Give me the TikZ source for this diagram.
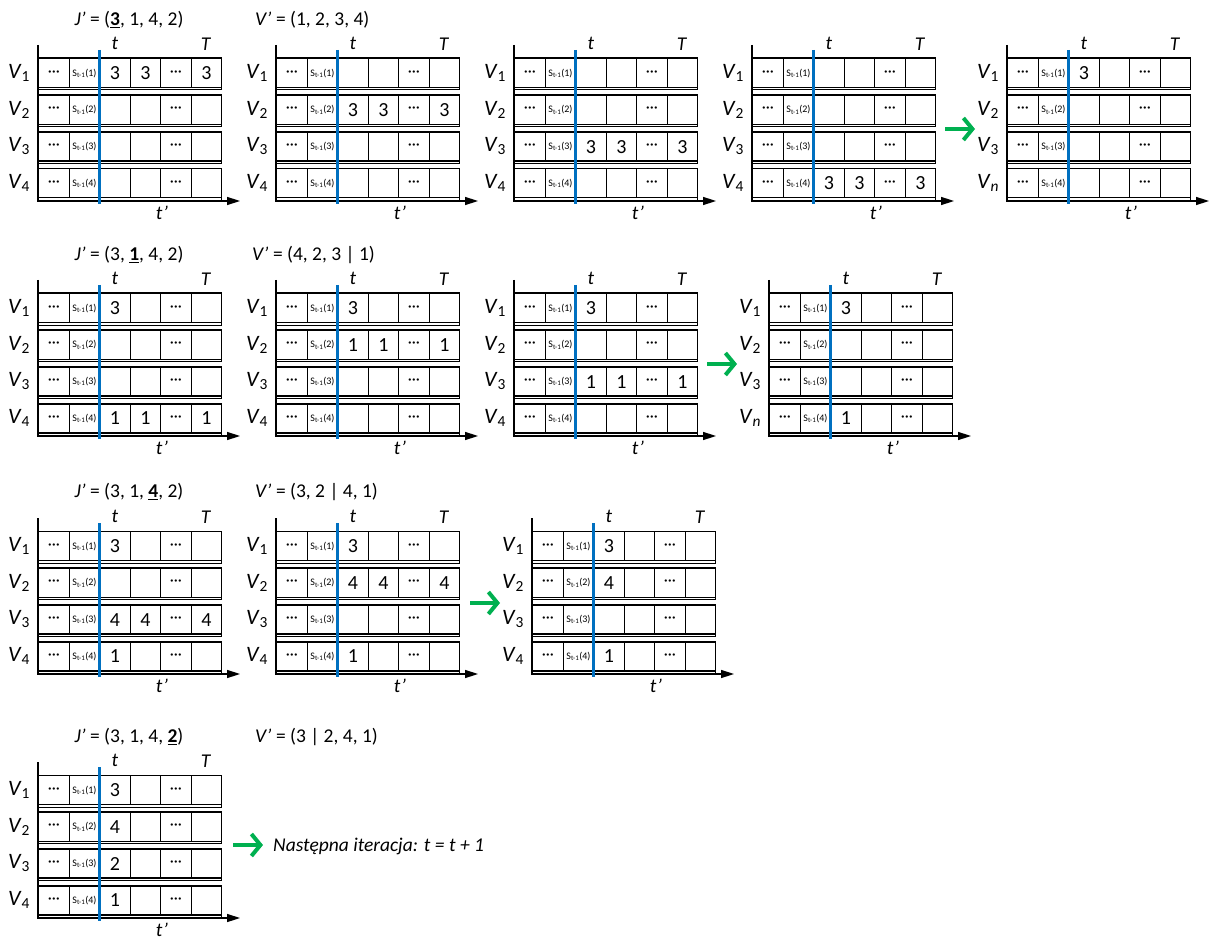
\documentclass[tikz,border=0pt]{standalone}
\usepackage{fontspec}
\setmainfont{Carlito}
\usetikzlibrary{arrows.meta}

\newcommand\slot[1]{{\fontsize{10}{11}\selectfont S\textsubscript{t-1}(#1)}}
\newcommand\gap{\textperiodcentered\textperiodcentered\textperiodcentered}

% one slot table: name, left x, top y, label of last row, filled cells r/c/v
\newcommand\slotgrid[5]{%
\begin{scope}[shift={(#2,#3)}]
  \foreach \r/\s in {1/1,2/2,3/3,4/#4} {
    \draw[rowframe] (0,{(\r-1)*36.7}) rectangle (183,{(\r-1)*36.7+32});
    \foreach \c/\txt in {1/{\gap},2/{\slot{\r}},3/{},4/{},5/{\gap},6/{}}
      \node[cell] (#1-\r-\c) at ({(\c-1)*30.5},{(\r-1)*36.7}) {\txt};
    \node[vlbl] (#1-v\r) at (-19,{(\r-1)*36.7+15}) {\textit{V}\textsubscript{\s}};
  }
  \foreach \r/\c/\v in {#5}
    \node[val] (#1-n\r\c) at (#1-\r-\c.center) {\v};
  % axes
  \coordinate (#1-top) at (0,-13);
  \coordinate (#1-o) at (0,143);
  \coordinate (#1-end) at (202,143);
  \draw[axis] (#1-top) -- (#1-o) -- (#1-end);
  % current moment
  \coordinate (#1-b0) at (61,-8);
  \coordinate (#1-b1) at (61,146);
  \draw[now] (#1-b0) -- (#1-b1);
  \node[lbl] (#1-t) at (77,-15) {\textit{t}};
  \node[lbl] (#1-T) at (168,-14) {\textit{T}};
  \node[lbl] (#1-tp) at (124,155) {\textit{t’}};
\end{scope}}

\begin{document}
\begin{tikzpicture}[x=1pt, y=-1pt,
  cell/.style={draw, line width=1.4pt, anchor=north west, minimum width=30.5pt,
    minimum height=29pt, inner sep=0pt, font=\fontsize{16}{18}\selectfont},
  rowframe/.style={line width=1pt},
  val/.style={inner sep=0pt, font=\fontsize{20}{22}\selectfont},
  vlbl/.style={inner sep=0pt, font=\fontsize{22}{24}\selectfont},
  lbl/.style={inner sep=0pt, font=\fontsize{19.5}{22}\selectfont},
  axis/.style={line width=1.5pt, -{Triangle[length=13pt, width=8pt]}},
  now/.style={line width=3pt, draw={rgb,255:red,0;green,112;blue,192}},
  go/.style={line width=4pt, draw={rgb,255:red,0;green,176;blue,80},
    -{Straight Barb[length=9pt, width=22pt]}}]
\useasboundingbox (0,0) rectangle (1210,941);

% first job
\node[lbl] (j1) at (129,20) {\textit{J’} = (\underline{\textbf{3}}, 1, 4, 2)};
\node[lbl, anchor=west] (v1) at (255,20) {\textit{V’} = (1, 2, 3, 4)};
\slotgrid{g11}{38}{58}{4}{1/3/3,1/4/3,1/6/3}
\slotgrid{g12}{276}{58}{4}{2/3/3,2/4/3,2/6/3}
\slotgrid{g13}{514}{58}{4}{3/3/3,3/4/3,3/6/3}
\slotgrid{g14}{752}{58}{4}{4/3/3,4/4/3,4/6/3}
\coordinate (a1s) at (945,129);
\coordinate (a1e) at (975,129);
\draw[go] (a1s) -- (a1e);
\slotgrid{g15}{1007}{58}{\textit{n}}{1/3/3}

% second job
\node[lbl] (j2) at (129,255) {\textit{J’} = (3, \underline{\textbf{1}}, 4, 2)};
\node[lbl, anchor=west] (v2) at (252,255) {\textit{V’} = (4, 2, 3 | 1)};
\slotgrid{g21}{38}{293}{4}{1/3/3,4/3/1,4/4/1,4/6/1}
\slotgrid{g22}{276}{293}{4}{1/3/3,2/3/1,2/4/1,2/6/1}
\slotgrid{g23}{514}{293}{4}{1/3/3,3/3/1,3/4/1,3/6/1}
\coordinate (a2s) at (707,364);
\coordinate (a2e) at (737,364);
\draw[go] (a2s) -- (a2e);
\slotgrid{g24}{769}{293}{\textit{n}}{1/3/3,4/3/1}

% third job
\node[lbl] (j3) at (129,492) {\textit{J’} = (3, 1, \underline{\textbf{4}}, 2)};
\node[lbl, anchor=west] (v3) at (255,492) {\textit{V’} = (3, 2 | 4, 1)};
\slotgrid{g31}{38}{531}{4}{1/3/3,3/3/4,3/4/4,3/6/4,4/3/1}
\slotgrid{g32}{276}{531}{4}{1/3/3,2/3/4,2/4/4,2/6/4,4/3/1}
\coordinate (a3s) at (470,603);
\coordinate (a3e) at (500,603);
\draw[go] (a3s) -- (a3e);
\slotgrid{g33}{532}{531}{4}{1/3/3,2/3/4,4/3/1}

% fourth job
\node[lbl] (j4) at (129,737) {\textit{J’} = (3, 1, 4, \underline{\textbf{2}})};
\node[lbl, anchor=west] (v4) at (255,737) {\textit{V’} = (3 | 2, 4, 1)};
\slotgrid{g41}{38}{775}{4}{1/3/3,2/3/4,3/3/2,4/3/1}
\coordinate (a4s) at (233,845);
\coordinate (a4e) at (263,845);
\draw[go] (a4s) -- (a4e);
\node[lbl, anchor=west] (next) at (273,846) {\textit{Następna iteracja: t = t + 1}};
\end{tikzpicture}
\end{document}
